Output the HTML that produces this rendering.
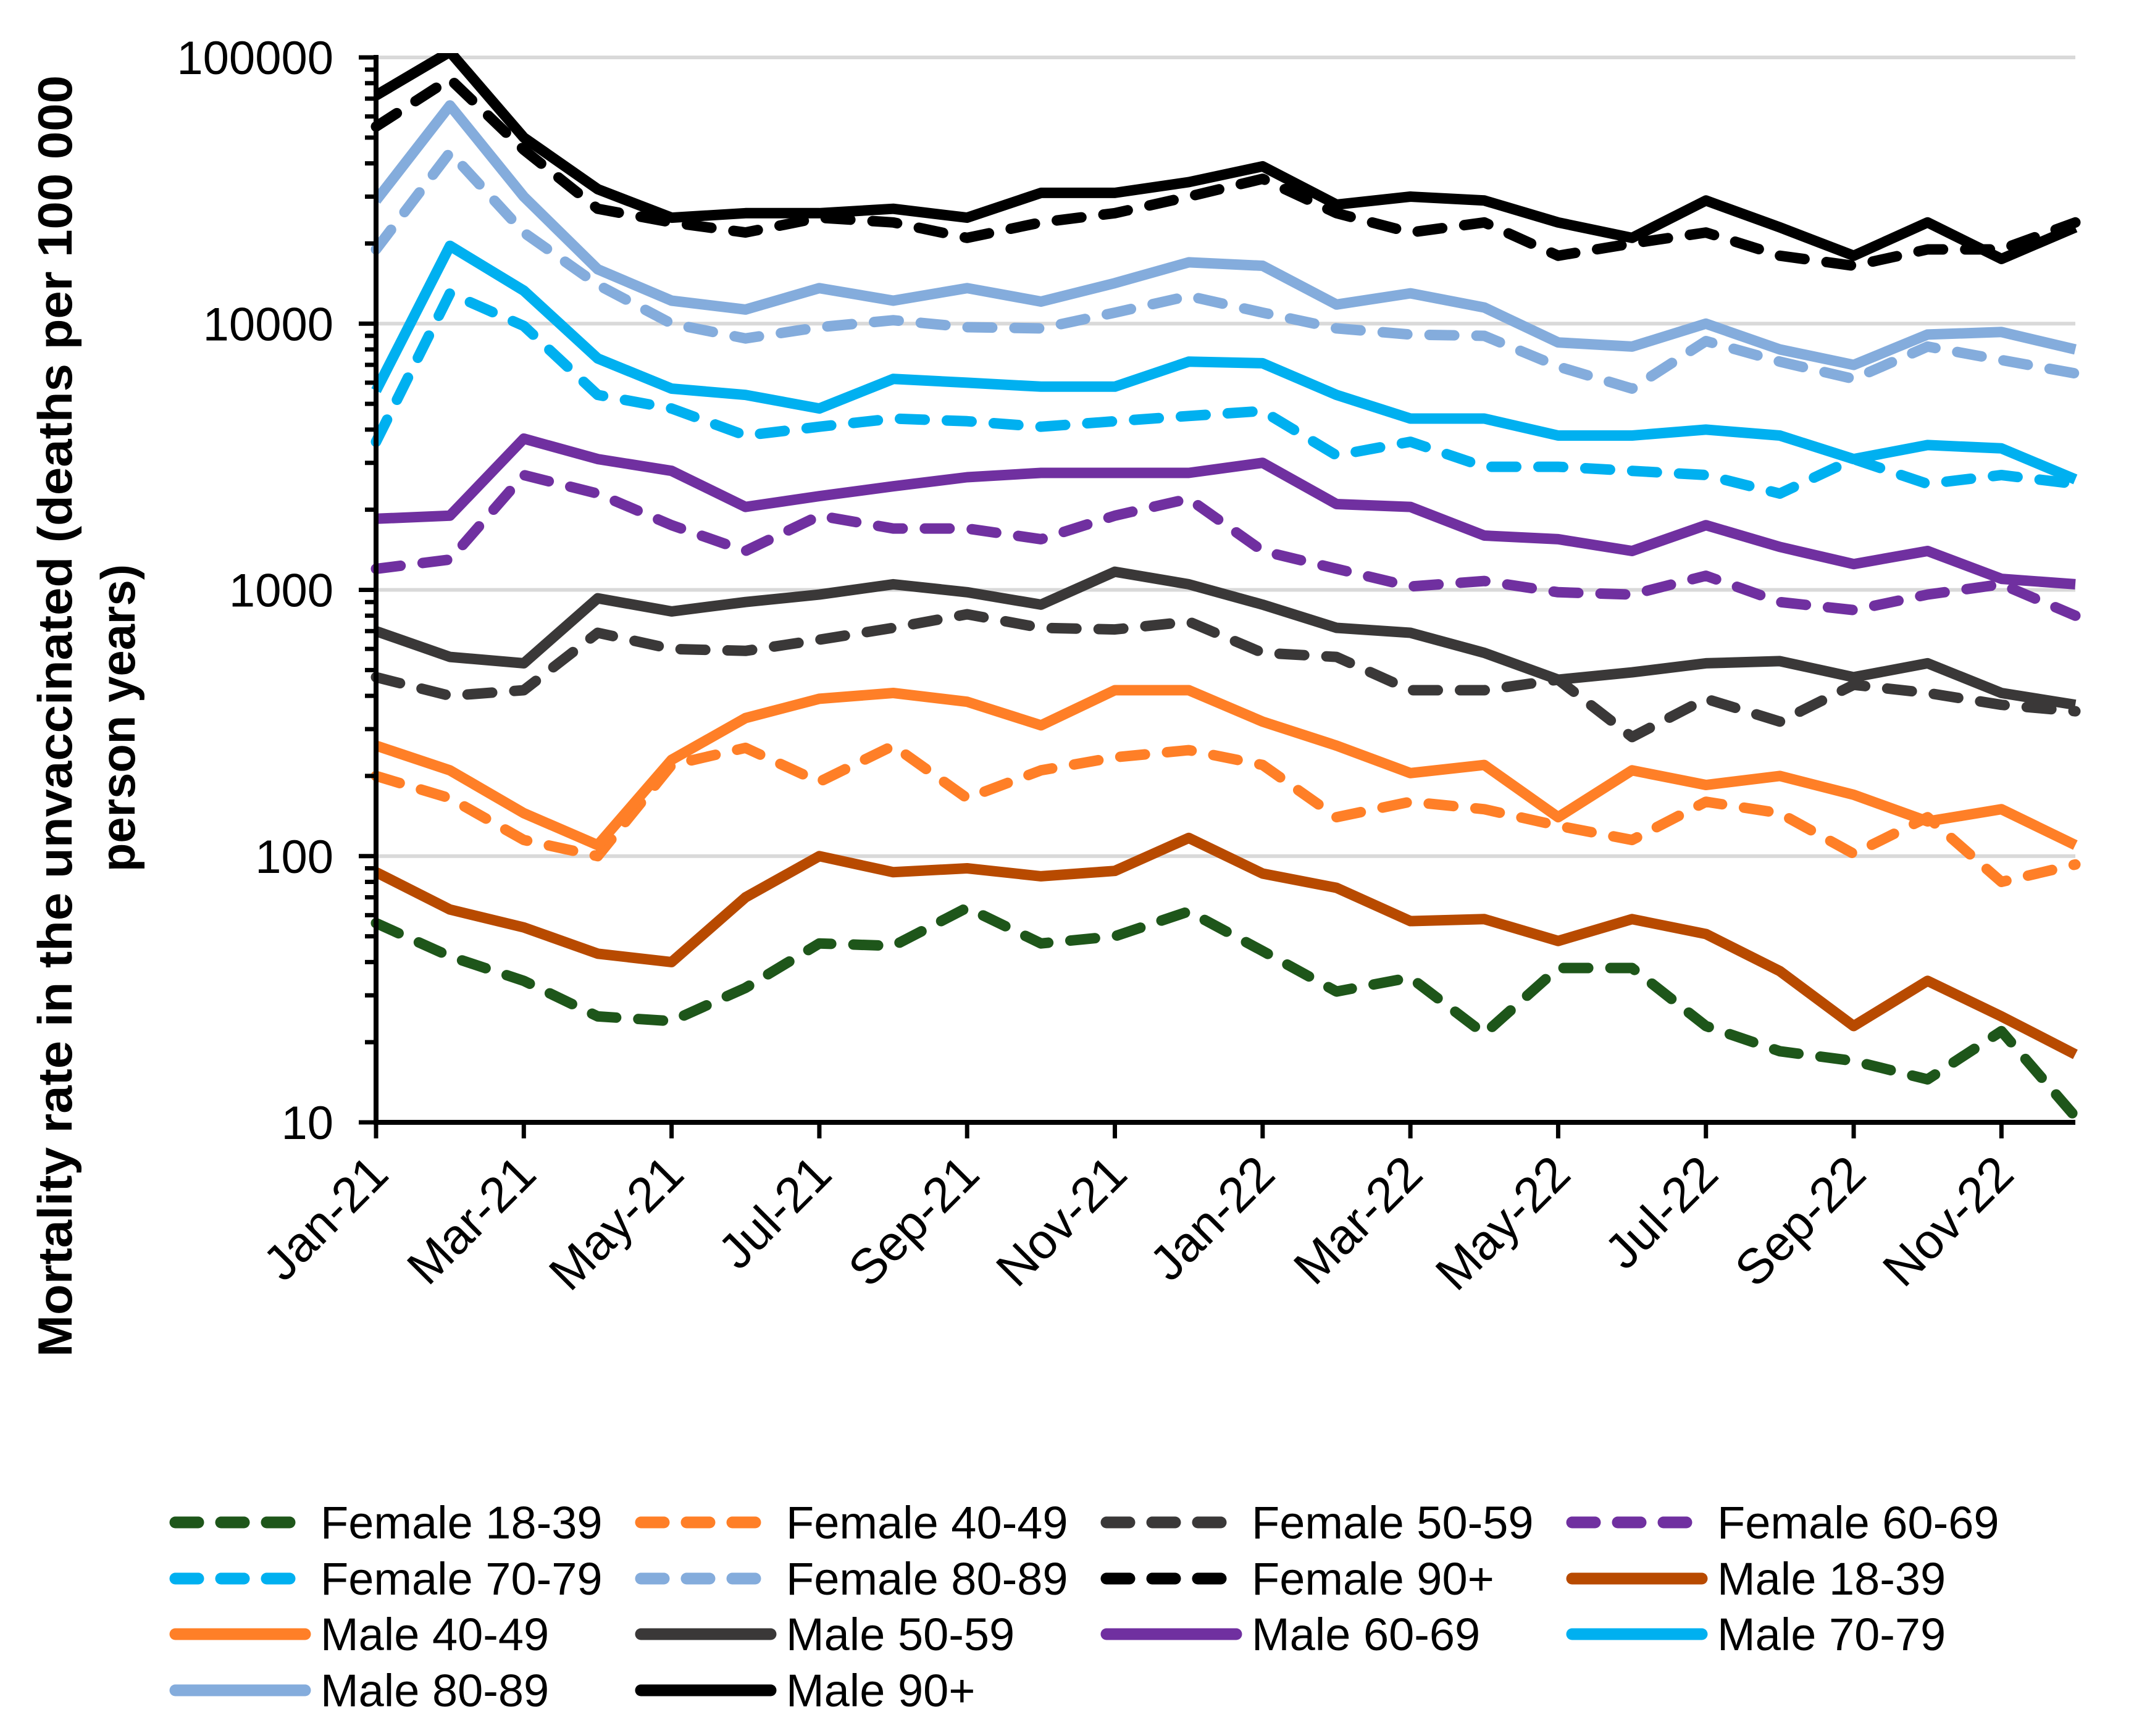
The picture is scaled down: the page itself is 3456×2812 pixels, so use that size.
<!DOCTYPE html>
<html><head><meta charset="utf-8"><style>
html,body{margin:0;padding:0;background:#fff;}
svg{display:block;font-family:"Liberation Sans",sans-serif;}
</style></head><body>
<svg id="chart" width="3456" height="2812" viewBox="0 0 3456 2812" xmlns="http://www.w3.org/2000/svg">
<defs><clipPath id="plotclip"><rect x="560" y="86" width="2810" height="1740"/></clipPath></defs>
<g id="grid"></g>
<g id="series" clip-path="url(#plotclip)"></g>
<g id="axes"></g>
<g id="ylabels"></g>
<g id="xlabels"></g>
<g font-weight="bold" font-size="78" text-anchor="middle">
<text transform="translate(116,1160) rotate(-90)" textLength="2076" lengthAdjust="spacingAndGlyphs">Mortality rate in the unvaccinated (deaths per 100 000</text>
<text transform="translate(218,1163) rotate(-90)" textLength="498" lengthAdjust="spacingAndGlyphs">person years)</text>
</g>
<g id="legend"></g>
</svg>
<script>
const months = ["Jan-21","Feb-21","Mar-21","Apr-21","May-21","Jun-21","Jul-21","Aug-21","Sep-21","Oct-21","Nov-21","Dec-21","Jan-22","Feb-22","Mar-22","Apr-22","May-22","Jun-22","Jul-22","Aug-22","Sep-22","Oct-22","Nov-22","Dec-22"];
const yTicks = [10,100,1000,10000,100000];
const seriesNames = ["Female 18-39","Female 40-49","Female 50-59","Female 60-69","Female 70-79","Female 80-89","Female 90+","Male 18-39","Male 40-49","Male 50-59","Male 60-69","Male 70-79","Male 80-89","Male 90+"];
const female1839 = [56,42,34,25,24,32,47,46,64,47,50,62,44,31,35,21.5,38,38,23,18.5,17,14.5,22,10.5];
const female4049 = [200,165,115,100,220,255,190,260,165,210,235,250,220,140,160,150,130,115,160,145,102,140,80,93];
const female5059 = [470,400,420,690,600,590,650,720,810,720,710,760,580,560,420,420,460,280,390,320,440,410,370,350];
const female6069 = [1200,1300,2700,2300,1750,1400,1900,1700,1700,1550,1900,2200,1400,1200,1030,1080,980,960,1130,900,840,960,1050,800];
const female7079 = [3600,13000,9800,5400,4800,3800,4100,4400,4300,4100,4300,4500,4700,3200,3600,2900,2900,2800,2700,2300,3100,2500,2700,2500];
const female8089 = [19000,44000,22000,14000,10000,8800,9700,10300,9700,9600,11000,12700,11000,9600,9100,9000,6900,5700,8600,7200,6200,8200,7300,6500];
const female90 = [55000,83000,45000,27000,24000,22000,25000,24000,21000,24000,26000,30000,35000,26000,22000,24000,18000,20000,22000,18000,16500,19000,19000,24000];
const male1839 = [87,63,54,43,40,70,100,87,90,84,88,117,86,76,57,58,48,58,51,37,23,34,25,18];
const male4049 = [260,210,145,110,230,330,390,410,380,310,420,420,320,260,205,220,140,210,185,200,170,135,150,110];
const male5059 = [700,560,530,930,830,900,960,1050,980,880,1170,1050,880,720,690,580,460,490,530,540,470,530,410,370];
const male6069 = [1850,1900,3700,3100,2800,2050,2250,2450,2650,2750,2750,2750,3000,2100,2050,1600,1550,1400,1750,1450,1250,1400,1100,1050];
const male7079 = [5600,19600,13300,7400,5700,5400,4800,6200,6000,5800,5800,7200,7100,5400,4400,4400,3800,3800,4000,3800,3100,3500,3400,2600];
const male8089 = [29000,66000,30000,16000,12200,11300,13600,12200,13600,12100,14200,17000,16500,11800,13000,11500,8500,8200,10000,8000,7000,9100,9300,8000];
const male90 = [72000,105000,50000,32000,25000,26000,26000,27000,25000,31000,31000,34000,39000,28000,30000,29000,24000,21000,29000,23000,18000,24000,17500,23000];

const seriesData = [female1839,female4049,female5059,female6069,female7079,female8089,female90,male1839,male4049,male5059,male6069,male7079,male8089,male90];
const colors = ["#1E561A","#FF7F27","#3A3838","#7030A0","#00B0F0","#84ACDC","#000000","#B84A00","#FF7F27","#3A3838","#7030A0","#00B0F0","#84ACDC","#000000"];
const NS = "http://www.w3.org/2000/svg";
const X0 = 609, X1 = 3361, YTOP = 93, YBOT = 1818;
function xPos(i){ return X0 + i*(X1-X0)/(months.length-1); }
function yPos(v){ return YBOT - (Math.log10(v)-1)/4*(YBOT-YTOP); }
function mk(tag, attrs, parent){ const e=document.createElementNS(NS,tag); for(const k in attrs) e.setAttribute(k,attrs[k]); parent.appendChild(e); return e; }

const grid=document.getElementById('grid'), axes=document.getElementById('axes'), yl=document.getElementById('ylabels'), xl=document.getElementById('xlabels'), ser=document.getElementById('series'), leg=document.getElementById('legend');
yTicks.forEach((t,k)=>{
  const y=yPos(t);
  if(k>0){ const g=mk('line',{x1:X0,x2:X1,y1:y,y2:y,stroke:'#d9d9d9','stroke-width':6},grid);
    
     }
  const tk=mk('line',{x1:X0-28,x2:X0,y1:y,y2:y,stroke:'#000','stroke-width':7},axes);
  
  
  const lb=mk('text',{x:540,y:y+27,'text-anchor':'end','font-size':76},yl);
  
  
  lb.textContent=String(t);
  if(k<yTicks.length-1){ for(let m=2;m<=9;m++){ const ym=yPos(t*m);
    const mt=mk('line',{x1:X0-18,x2:X0,y1:ym,y2:ym,stroke:'#000','stroke-width':7},axes);
    
     } }
});
const ya=mk('line',{x1:X0,x2:X0,y1:YTOP-4,y2:YBOT+4,stroke:'#000','stroke-width':8},axes);


const xa=mk('line',{x1:X0-4,x2:X1,y1:YBOT,y2:YBOT,stroke:'#000','stroke-width':8},axes);


months.forEach((m,i)=>{
  if(i%2!==0) return;
  const x=xPos(i);
  const tk=mk('line',{x1:x,x2:x,y1:YBOT,y2:YBOT+26,stroke:'#000','stroke-width':7},axes);
  
  
  const t=mk('text',{transform:`translate(${x+24},${YBOT+88}) rotate(-45)`,'text-anchor':'end','font-size':80},xl);
  
  
  t.textContent=m;
});
seriesData.forEach((vals,s)=>{
  const d=vals.map((v,i)=>(i?'L':'M')+xPos(i).toFixed(1)+' '+yPos(v).toFixed(1)).join(' ');
  const dashed=s<7;
  const p=mk('path',{d:d,fill:'none',stroke:colors[s],'stroke-width':17,'stroke-linejoin':'round','stroke-linecap':dashed?'round':'butt'},ser);
  if(dashed) p.setAttribute('stroke-dasharray','40 36');
  
  
});
const colX=[274,1028,1782,2536], rowY=[2466,2557,2647,2738];
seriesNames.forEach((n,s)=>{
  const c=s%4, r=Math.floor(s/4), dashed=s<7;
  const y=rowY[r], x=colX[c];
  const g=mk('g',{},leg);
  
  
  const ln=mk('line',{x1:x+10,x2:x+220,y1:y,y2:y,stroke:colors[s],'stroke-width':19,'stroke-linecap':'round'},g);
  if(dashed) ln.setAttribute('stroke-dasharray','37 37');
  
  
  const t=mk('text',{x:x+245,y:y+26,'font-size':74},g);
  
  
  t.textContent=n;
});
</script>
</body></html>
